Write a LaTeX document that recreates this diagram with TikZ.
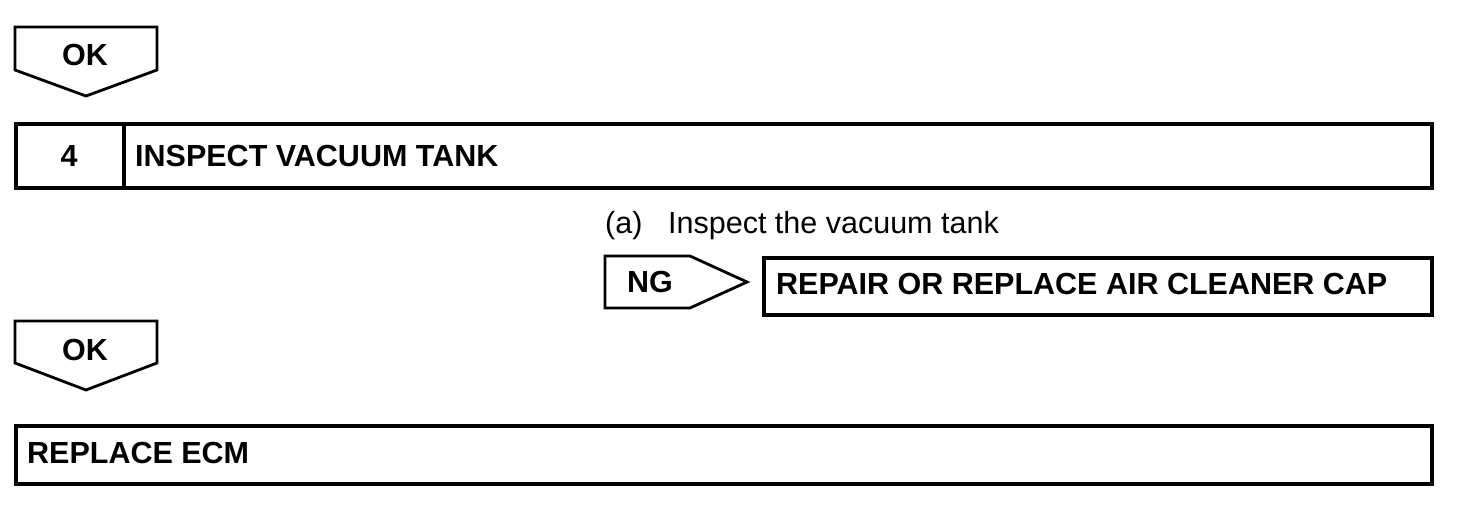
\documentclass[tikz,border=0pt]{standalone}
\usepackage{fontspec}
\setmainfont{Liberation Sans}
\begin{document}
\begin{tikzpicture}[x=1pt,y=-1pt,
  boxline/.style={line width=4pt},
  tagline/.style={line width=2.8pt, line join=miter},
  btext/.style={font=\fontsize{30.5}{36}\selectfont\bfseries, inner sep=0pt},
  ntext/.style={font=\fontsize{30.5}{36}\selectfont, inner sep=0pt}]
\useasboundingbox (0,0) rectangle (1472,508);
% OK tag 1
\draw[tagline] (15,27) -- (157,27) -- (157,70) -- (86,96) -- (15,70) -- cycle;
\node[btext, anchor=base] (ok1) at (85,66) {OK};
% Step 4 box
\node[boxline, draw, minimum width=1416pt, minimum height=64pt, anchor=north west, inner sep=0pt] (step4) at (14,122) {};
\draw[boxline] (124,122) -- (124,186);
\node[btext, anchor=base] (num4) at (69,166) {4};
\node[btext, anchor=base west] (title4) at (135,166) {INSPECT VACUUM TANK};
% note
\node[ntext, anchor=base west] (noteA) at (605,233) {(a)};
\node[ntext, anchor=base west] (noteB) at (668,233) {Inspect the vacuum tank};
% NG tag
\draw[tagline] (605,256) -- (690,256) -- (747,282) -- (690,308) -- (605,308) -- cycle;
\node[btext, anchor=base] (ng) at (650,292) {NG};
% repair box
\node[boxline, draw, minimum width=668pt, minimum height=57pt, anchor=north west, inner sep=0pt] (repair) at (762,256) {};
\node[btext, anchor=base west] (repairtxt) at (776,294) {REPAIR OR REPLACE AIR CLEANER CAP};
% OK tag 2
\draw[tagline] (15,321) -- (157,321) -- (157,363) -- (86,390) -- (15,363) -- cycle;
\node[btext, anchor=base] (ok2) at (85,360) {OK};
% ECM box
\node[boxline, draw, minimum width=1416pt, minimum height=58pt, anchor=north west, inner sep=0pt] (ecm) at (14,424) {};
\node[btext, anchor=base west] (ecmtxt) at (27,463) {REPLACE ECM};
\end{tikzpicture}
\end{document}
